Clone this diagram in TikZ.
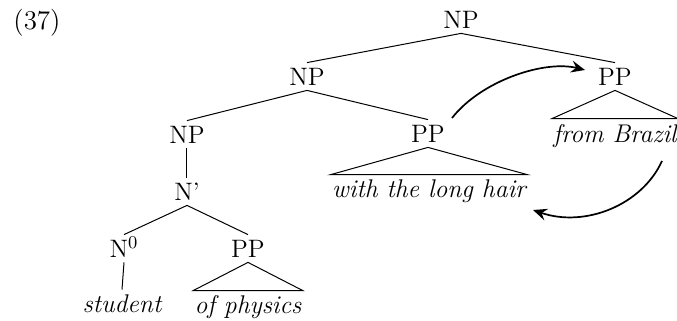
\documentclass[tikz,border=0pt]{standalone}
\usetikzlibrary{arrows.meta}
\begin{document}
\begin{tikzpicture}[x=0.5pt,y=-0.5pt,
  every node/.style={font=\fontsize{12.6}{15}\selectfont},
  lab/.style={inner sep=0pt, anchor=base, text height=11pt, text depth=2.5pt},
  word/.style={lab, text height=11.5pt, font=\fontsize{12.8}{15}\selectfont\itshape, inner xsep=0.5pt},
  branch/.style={line width=0.5pt},
  move/.style={line width=0.85pt, -{Stealth[length=7pt,width=6pt,inset=2.5pt]}}]
\useasboundingbox (0,0) rectangle (677,321);

% example number
\node[inner sep=0pt, anchor=base, font=\fontsize{13.5}{16}\selectfont] (ex) at (37,30) {(37)};

% category labels (placed at their baselines)
\node[lab] (np1)  at (461,28)  {NP};
\node[lab] (np2)  at (307,85)  {NP};
\node[lab] (ppr)  at (615,85)  {PP};
\node[lab] (np3)  at (187,143) {NP};
\node[lab] (ppm)  at (428,142) {PP};
\node[lab] (nbar) at (187,200) {N'};
\node[lab] (n0)   at (124,257) {N$^0$};
\node[lab] (pps)  at (248,257) {PP};

% terminal strings
\node[word] (fb)  at (615,142) {from Brazil};
\node[word] (wh)  at (429,198) {with the long hair};
\node[word] (stu) at (122,313) {student};
\node[word] (op)  at (248,314) {of physics};

% branches
\draw[branch] (np1.south) -- (np2.north);
\draw[branch] (np1.south) -- (ppr.north);
\draw[branch] (np2.south) -- (np3.north);
\draw[branch] (np2.south) -- (ppm.north);
\draw[branch] (np3.south) -- (nbar.north);
\draw[branch] (nbar.south) -- (n0.north);
\draw[branch] (nbar.south) -- (pps.north);
\draw[branch] (n0.south) -- (stu.north);

% roofed constituents
\draw[branch] (ppr.south) -- (fb.north west) -- (fb.north east) -- cycle;
\draw[branch] (ppm.south) -- (wh.north west) -- (wh.north east) -- cycle;
\draw[branch] (pps.south) -- (op.north west) -- (op.north east) -- cycle;

% movement arrows
\coordinate (a1s) at (452,118);
\coordinate (a1e) at (585,70);
\coordinate (a2s) at (662,161);
\coordinate (a2e) at (533,210);
\draw[move] (a1s) .. controls (482,80) and (545,60) .. (a1e);
\draw[move] (a2s) .. controls (642,205) and (585,228) .. (a2e);
\end{tikzpicture}
\end{document}
